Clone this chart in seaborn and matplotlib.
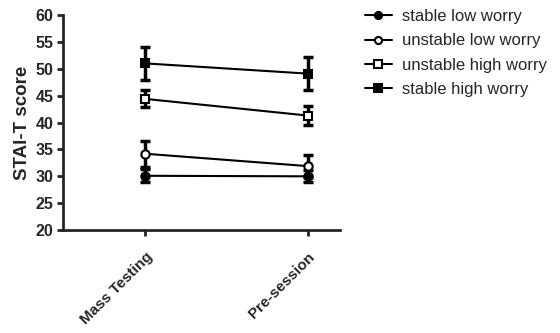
import seaborn as sns
import pandas as pd
import matplotlib.pyplot as plt

sessions = ['Mass Testing', 'Pre-session']
groups = ['stable low worry', 'unstable low worry', 'unstable high worry', 'stable high worry']
means = {
    'stable low worry': [30.1, 30.0],
    'unstable low worry': [34.2, 31.9],
    'unstable high worry': [44.4, 41.3],
    'stable high worry': [51.0, 49.1],
}
sems = {
    'stable low worry': [1.2, 1.1],
    'unstable low worry': [2.4, 2.1],
    'unstable high worry': [1.6, 1.7],
    'stable high worry': [3.0, 3.0],
}
markers = {'stable low worry': 'o', 'unstable low worry': 'o',
           'unstable high worry': 's', 'stable high worry': 's'}
fills = {'stable low worry': 'black', 'unstable low worry': 'white',
         'unstable high worry': 'white', 'stable high worry': 'black'}

rows = []
for g in groups:
    for i, s in enumerate(sessions):
        rows.append({'group': g, 'pos': i, 'session': s,
                     'score': means[g][i], 'err': sems[g][i]})
df = pd.DataFrame(rows)

sns.set_style('ticks')
plt.rcParams['font.family'] = ['Liberation Sans', 'DejaVu Sans']

fig = plt.figure(figsize=(5.6, 3.33), dpi=100)
ax = fig.add_axes([0.1125, 0.309, 0.495, 0.646])

for g in groups:
    d = df[df['group'] == g]
    ax.errorbar(d['pos'], d['score'], yerr=d['err'], fmt='none', ecolor='black',
                elinewidth=2.5, capsize=3.5, capthick=2.5, zorder=2)
    sns.lineplot(data=d, x='pos', y='score', color='black', linewidth=1.5,
                 marker=markers[g], markersize=6, markerfacecolor=fills[g],
                 markeredgecolor='black', markeredgewidth=1.5,
                 label=g, ax=ax, zorder=3)

ax.set_xlim(-0.506, 1.2)
ax.set_ylim(20, 60)
ax.set_yticks(range(20, 61, 5))
ax.set_xticks([0, 1])
ax.set_xticklabels(sessions, rotation=45, ha='right', rotation_mode='anchor',
                   fontsize=11, fontweight='bold')
for t in ax.get_yticklabels():
    t.set_fontweight('bold')
    t.set_fontsize(11.5)
ax.set_xlabel('')
ax.set_ylabel('STAI-T score', fontsize=13.5, fontweight='bold', labelpad=3)
sns.despine(ax=ax)
for sp in ['left', 'bottom']:
    ax.spines[sp].set_linewidth(2)
ax.tick_params(width=2, length=4)
ax.tick_params(axis='x', pad=10)
ax.tick_params(axis='y', pad=3)

leg = ax.legend(loc='upper left', bbox_to_anchor=(0.652, 0.972),
                bbox_transform=fig.transFigure, frameon=False,
                fontsize=12, handlelength=1.6, handletextpad=0.6,
                labelspacing=0.55, borderpad=0, borderaxespad=0, markerscale=0.85)

fig.savefig('out.png', dpi=100)
